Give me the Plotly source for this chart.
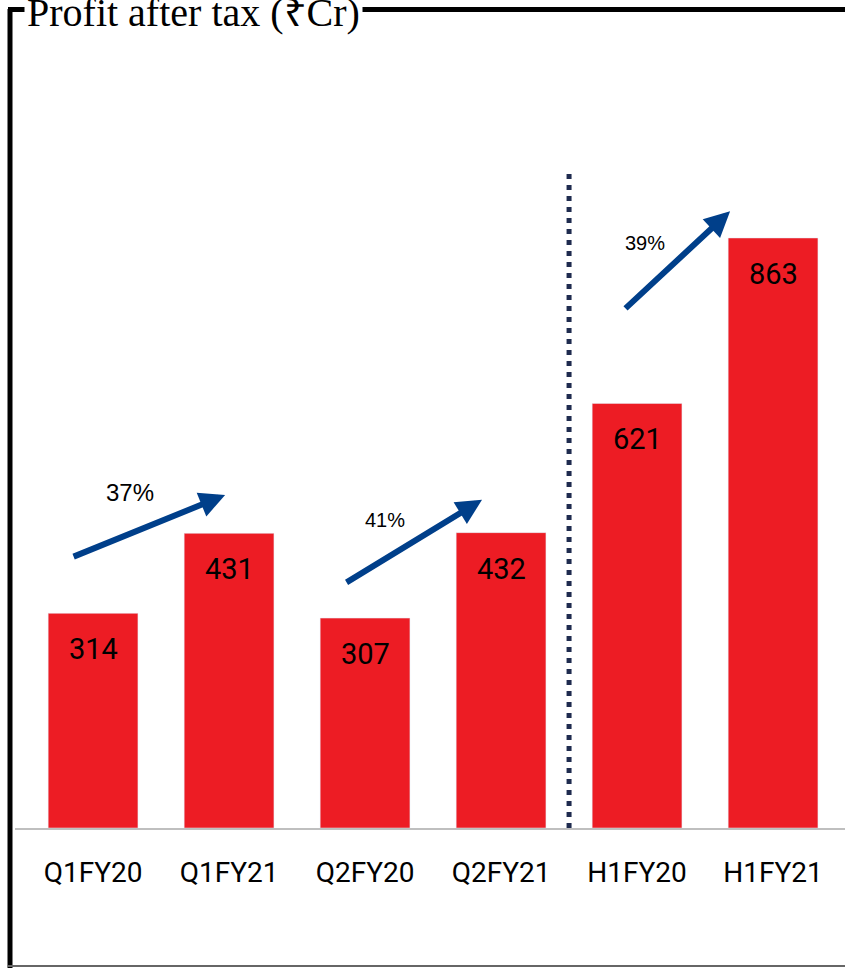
import plotly.graph_objects as go

periods = ["Q1FY20", "Q1FY21", "Q2FY20", "Q2FY21", "H1FY20", "H1FY21"]
profit = [314, 431, 307, 432, 621, 863]
growth = ["37%", "41%", "39%"]

W, H = 845, 968
L, R, T, B = 15, 0, 30, 140
PW, PH = W - L - R, H - T - B


def px(x):
    return (x - L) / PW


def py(y):
    return (H - B - y) / PH


fig = go.Figure()
fig.add_trace(go.Bar(
    x=list(range(len(periods))), y=profit,
    marker_color="#ED1C24", width=0.66,
    hoverinfo="skip"
))

# value labels inside the bars, just below the top
for i, v in enumerate(profit):
    fig.add_annotation(x=i, y=v, text=str(v), showarrow=False,
                       yanchor="middle", yshift=-36,
                       font=dict(family="Roboto", size=29, color="#000000"))

# growth arrows (tail, head in data units) and their labels
arrows = [((-0.154, 396), (0.971, 487)),
          ((1.853, 358), (2.860, 480)),
          ((3.904, 758), (4.684, 902))]
label_pos = [(0.272, 490, 24), (2.147, 450, 20), (4.059, 856, 20)]
for (tail, head), g, (lx, ly, fs) in zip(arrows, growth, label_pos):
    fig.add_annotation(x=head[0], y=head[1], ax=tail[0], ay=tail[1],
                       xref="x", yref="y", axref="x", ayref="y",
                       showarrow=True, arrowhead=2, arrowsize=0.85,
                       arrowwidth=6, arrowcolor="#003F8A", text="")
    fig.add_annotation(x=lx, y=ly, text=g, showarrow=False,
                       font=dict(family="Liberation Sans", size=fs, color="#000000"))

# separator between quarters and half-years
fig.add_shape(type="line", x0=3.5, x1=3.5, y0=0, y1=959, xref="x", yref="y",
              line=dict(color="#1F2B4F", width=5, dash="5px,6px"))

# frame around the chart
fig.add_shape(type="line", xref="paper", yref="paper",
              x0=px(10), x1=px(10), y0=py(9), y1=py(H + 5),
              line=dict(color="#000000", width=5))
fig.add_shape(type="line", xref="paper", yref="paper",
              x0=px(8), x1=px(W + 5), y0=py(9.5), y1=py(9.5),
              line=dict(color="#000000", width=5))
fig.add_shape(type="line", xref="paper", yref="paper",
              x0=px(8), x1=px(W + 5), y0=py(966), y1=py(966),
              line=dict(color="#666666", width=2))

fig.add_annotation(xref="paper", yref="paper", x=px(24), y=py(12),
                   xanchor="left", yanchor="middle", showarrow=False,
                   text="Profit after tax (₹Cr)", bgcolor="#FFFFFF", borderpad=2,
                   font=dict(family="Liberation Serif", size=40, color="#000000"))

fig.update_layout(
    width=W, height=H,
    margin=dict(l=L, r=R, t=T, b=B),
    plot_bgcolor="#FFFFFF", paper_bgcolor="#FFFFFF",
    showlegend=False,
    xaxis=dict(
        tickmode="array", tickvals=list(range(len(periods))), ticktext=periods,
        range=[-0.574, 5.529], showgrid=False, zeroline=False,
        showline=True, linecolor="#BFBFBF", linewidth=2,
        ticks="", ticklabelstandoff=18,
        tickfont=dict(family="Roboto", size=28, color="#000000")
    ),
    yaxis=dict(range=[0, PH / 0.6837], visible=False),
)

fig.write_html("out.html", config={"displayModeBar": False},
               post_script="document.body.style.margin='0';document.body.style.overflow='hidden';")
